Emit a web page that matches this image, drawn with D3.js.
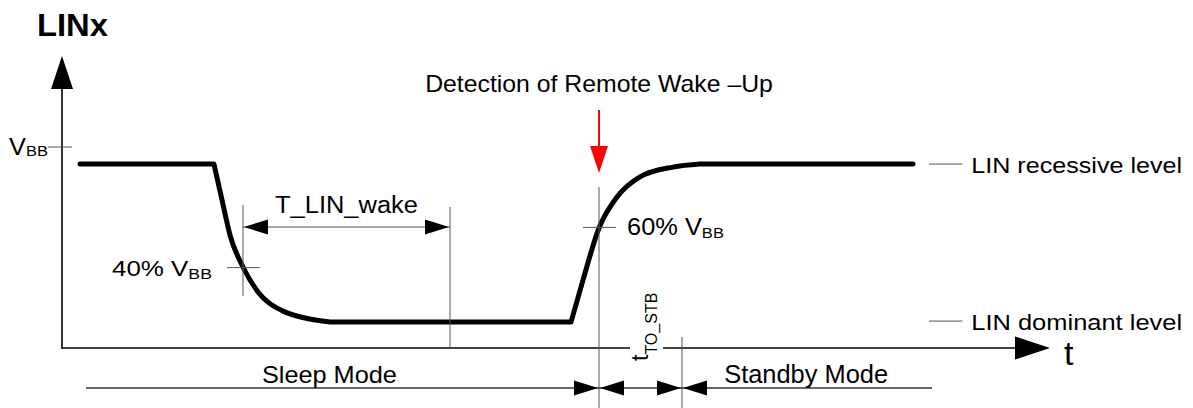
<!DOCTYPE html>
<html>
<head>
<meta charset="utf-8">
<script src="https://cdn.jsdelivr.net/npm/d3@7"></script>
<style>
  body { margin: 0; background: #fff; }
  svg { display: block; font-family: "Liberation Sans", Arial, Helvetica, sans-serif; }
</style>
</head>
<body>
<svg id="chart" width="1193" height="408"></svg>
<script>
// LIN bus voltage (fraction of VBB) over time (arbitrary units)
const signalTime  = [1.83, 15.46, 16.28, 17.09, 18.41, 19.94, 22.48, 24.72, 27.26, 51.78, 53.0, 54.63, 56.46, 58.8, 62.16, 64.9, 86.57];
const signalLevel = [0.915, 0.915, 0.736, 0.562, 0.403, 0.279, 0.184, 0.149, 0.129, 0.129, 0.338, 0.597, 0.751, 0.851, 0.9, 0.915, 0.915];
// index ranges of the pieces (straight runs and the two edges)
const signalPieces = [[0, 1], [1, 8], [8, 9], [9, 15], [15, 16]];

const levelNames = ["LIN recessive level", "LIN dominant level"];
const levelValues = [0.915, 0.134];
const thresholdLabels = ["40% V", "60% V"];
const thresholdValues = [0.4, 0.6];
const thresholdTimes = [18.41, 54.63];

const wakeStart = 18.41, wakeEnd = 39.47;   // T_LIN_wake
const detectTime = 54.63;                    // remote wake-up detected
const stbEnd = 63.07;                        // end of t_TO_STB
const modeNames = ["Sleep Mode", "Standby Mode"];
const modeCenters = [27.2, 75.7];
const modeLine = [2.44, 88.5];
const vbb = 1;

const svg = d3.select("#chart");
const x = d3.scaleLinear().domain([0, 100]).range([62, 1045]);
const y = d3.scaleLinear().domain([0, 1]).range([348, 147]);
const grey = "#555";

function tri(x0, y0, dir, len, half, fill) {
    // dir = where the tip points, (x0,y0) is the tip
    let pts;
    if (dir === "r") pts = [[x0, y0], [x0 - len, y0 - half], [x0 - len, y0 + half]];
    if (dir === "l") pts = [[x0, y0], [x0 + len, y0 - half], [x0 + len, y0 + half]];
    if (dir === "u") pts = [[x0, y0], [x0 - half, y0 + len], [x0 + half, y0 + len]];
    if (dir === "d") pts = [[x0, y0], [x0 - half, y0 - len], [x0 + half, y0 - len]];
    svg.append("polygon").attr("points", pts.map(p => p.join(",")).join(" ")).attr("fill", fill || "#000");
}
function hline(x1, x2, yy, w, c) {
    svg.append("line").attr("x1", x1).attr("x2", x2).attr("y1", yy).attr("y2", yy)
        .attr("stroke", c || grey).attr("stroke-width", w || 1);
}
function vline(xx, y1, y2, w, c) {
    svg.append("line").attr("x1", xx).attr("x2", xx).attr("y1", y1).attr("y2", y2)
        .attr("stroke", c || grey).attr("stroke-width", w || 1);
}
// text is stretched sideways to the width it has in the picture
function label(tx, ty, str, size, opts) {
    opts = opts || {};
    const g = svg.append("g");
    const t = g.append("text")
        .attr("font-size", size).attr("fill", "#000")
        .attr("text-anchor", opts.anchor || "start")
        .attr("font-weight", opts.bold ? "bold" : null)
        .text(str);
    if (opts.sub) t.append("tspan").attr("font-size", opts.subSize || 14).attr("dy", opts.subDy || 4).text(opts.sub);
    let sx = 1;
    if (opts.width) sx = opts.width / t.node().getComputedTextLength();
    g.attr("transform", `translate(${tx},${ty}) scale(${sx},1)`);
    return t;
}

// axes
vline(x(0), y(0) + 1, 88, 1.6, "#000");
tri(x(0), 56, "u", 33, 11);
hline(x(0), 1016, y(0), 1.6, "#000");
tri(1050, y(0), "r", 35, 11.5);
label(1064, 365, "t", 34);
label(37, 36, "LINx", 32, { bold: true, width: 71 });

// VBB tick
hline(x(0) - 14, x(0) + 10, y(vbb), 1);
label(9, 155, "V", 23, { sub: "BB", subSize: 15, subDy: 1, width: 39 });

// signal
const pieceLine = d3.line().x(d => x(d[0])).y(d => y(d[1])).curve(d3.curveMonotoneX);
let pathStr = "";
signalPieces.forEach(([a, b], i) => {
    const pts = d3.range(a, b + 1).map(k => [signalTime[k], signalLevel[k]]);
    const s = pieceLine(pts);
    pathStr += i === 0 ? s : s.replace(/^M/, "L");
});
svg.append("path").attr("d", pathStr).attr("fill", "none").attr("stroke", "#000")
    .attr("stroke-width", 5).attr("stroke-linecap", "round").attr("stroke-linejoin", "round");

// level labels
levelValues.forEach((v, i) => {
    hline(x(88.2), x(91.6), y(v), 1);
    label(x(92.5), y(v) + 9, levelNames[i], 23, { width: 211 });
});

// threshold ticks
thresholdValues.forEach((v, i) => {
    hline(x(thresholdTimes[i]) - 16, x(thresholdTimes[i]) + 17, y(v), 1);
});
label(112, y(0.4) + 8, thresholdLabels[0], 22, { sub: "BB", subSize: 15, subDy: 3, width: 100 });
label(x(thresholdTimes[1]) + 28, y(0.6) + 8, thresholdLabels[1], 23, { sub: "BB", subSize: 15, subDy: 3, width: 97 });

// T_LIN_wake
vline(x(wakeStart), 205, 296, 1);
vline(x(wakeEnd), 207, y(0), 1);
hline(x(wakeStart), x(wakeEnd), 227, 1);
tri(x(wakeStart) + 1, 227, "l", 24, 7.5);
tri(x(wakeEnd) - 1, 227, "r", 24, 7.5);
label((x(wakeStart) + x(wakeEnd)) / 2, 213, "T_LIN_wake", 23, { anchor: "middle", width: 143 });

// remote wake-up detection
vline(x(detectTime), 187, 408, 1);
vline(x(detectTime), 110, 150, 2, "#f00");
tri(x(detectTime), 173, "d", 27, 9, "#f00");
label(x(detectTime), 92, "Detection of Remote Wake \u2013Up", 23, { anchor: "middle", width: 348 });

// t_TO_STB
vline(x(stbEnd), 337, 408, 1);
svg.append("rect").attr("x", 630).attr("y", y(0) - 6).attr("width", 33).attr("height", 12).attr("fill", "#fff");
const rot = svg.append("g").attr("transform", `translate(648,361) rotate(-90)`);
rot.append("text").attr("font-size", 23).text("t")
    .append("tspan").attr("font-size", 16).attr("dy", 9).text("TO_STB");

// mode line
const my = 388;
hline(x(modeLine[0]), x(modeLine[1]), my, 1.4, "#333");
tri(x(detectTime) - 1, my, "r", 24, 7.5);
tri(x(detectTime) + 1, my, "l", 24, 7.5);
tri(x(stbEnd) - 1, my, "r", 24, 7.5);
tri(x(stbEnd) + 1, my, "l", 24, 7.5);
label(x(modeCenters[0]), 383, modeNames[0], 24, { anchor: "middle", width: 135 });
label(x(modeCenters[1]), 383, modeNames[1], 25, { anchor: "middle", width: 164 });
</script>
</body>
</html>
